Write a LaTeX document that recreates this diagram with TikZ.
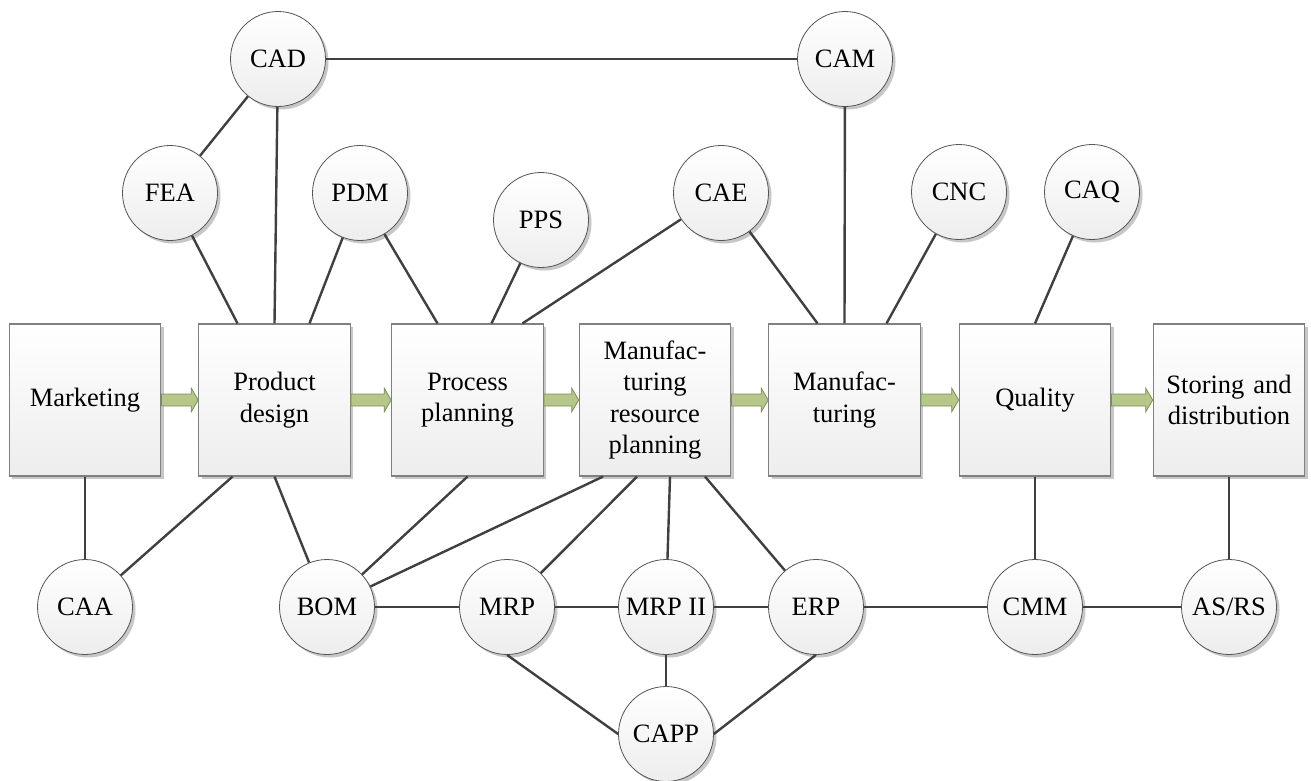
\documentclass[tikz,border=0pt]{standalone}
\usepackage{fontspec}
\setmainfont{Liberation Serif}
\usetikzlibrary{shadows,calc}
\definecolor{lineC}{RGB}{64,64,64}
\definecolor{arrF}{RGB}{181,199,137}
\definecolor{arrD}{RGB}{125,142,88}
\definecolor{boxD}{RGB}{128,128,128}
\definecolor{circD}{RGB}{85,85,85}
\newcommand\blockarrow[2]{%
  \filldraw[arrstyle] let \p1=(#1.east), \p2=(#2.west) in
    (\x1,\y1+6pt) -- (\x2-7pt,\y1+6pt) -- (\x2-7pt,\y1+12pt) -- (\x2,\y1)
    -- (\x2-7pt,\y1-12pt) -- (\x2-7pt,\y1-6pt) -- (\x1,\y1-6pt) -- cycle;}
\begin{document}
\begin{tikzpicture}[x=1pt,y=-1pt,
  txt/.style={font=\fontsize{26.5}{31.5}\selectfont},
  box/.style={rectangle, draw=boxD, line width=1.2pt, minimum width=151.5pt,
    minimum height=152pt, top color=white, bottom color=gray!14,
    drop shadow={shadow xshift=3pt, shadow yshift=-3pt, opacity=0.22, fill=black},
    align=center, text width=145pt, inner sep=0pt, txt},
  circ/.style={circle, draw=circD, line width=0.8pt, minimum size=95pt,
    inner sep=0pt, top color=white, bottom color=gray!14,
    drop shadow={shadow xshift=3pt, shadow yshift=-3pt, opacity=0.22, fill=black},
    txt},
  link/.style={draw=lineC, line width=2.4pt},
  arrstyle/.style={fill=arrF, draw=arrD, line width=0.8pt, line join=miter}]
\useasboundingbox (0,0) rectangle (1311,780);
% boxes
\node[box] (mk) at (85,400) {Marketing};
\node[box] (pd) at (274.5,400) {Product\\design};
\node[box] (pp) at (467.5,400) {Process\\planning};
\node[box] (mr) at (655,400) {Manufac-\\turing\\resource\\planning};
\node[box] (mf) at (844.5,400) {Manufac-\\turing};
\node[box] (q) at (1035,400) {Quality};
\node[box] (sd) at (1229,400) {Storing and\\distribution};
% circles
\node[circ] (cad) at (278,59) {CAD};
\node[circ] (cam) at (845,59) {CAM};
\node[circ] (fea) at (170,193) {FEA};
\node[circ] (pdm) at (360,193) {PDM};
\node[circ] (pps) at (541,220) {PPS};
\node[circ] (cae) at (721,193) {CAE};
\node[circ] (cnc) at (959,192) {CNC};
\node[circ] (caq) at (1092,192) {CAQ};
\node[circ] (caa) at (85,607) {CAA};
\node[circ] (bom) at (327,607) {BOM};
\node[circ] (mrp) at (507,607) {MRP};
\node[circ] (mrp2) at (666,607) {MRP II};
\node[circ] (erp) at (816,607) {ERP};
\node[circ] (cmm) at (1035,607) {CMM};
\node[circ] (asrs) at (1229,607) {AS/RS};
\node[circ] (capp) at (666,734) {CAPP};
% arrows
\blockarrow{mk}{pd}
\blockarrow{pd}{pp}
\blockarrow{pp}{mr}
\blockarrow{mr}{mf}
\blockarrow{mf}{q}
\blockarrow{q}{sd}
% top links
\draw[link] (cad) -- (cam);
\draw[link] (cad) -- (fea);
\draw[link] (cad) -- (pd.north);
\draw[link] (fea) -- ([xshift=-37pt]pd.north);
\draw[link] (pdm) -- ([xshift=35pt]pd.north);
\draw[link] (pdm) -- ([xshift=-30pt]pp.north);
\draw[link] (pps) -- ([xshift=24pt]pp.north);
\draw[link] (cae) -- ([xshift=55pt]pp.north);
\draw[link] (cae) -- ([xshift=-27pt]mf.north);
\draw[link] (cam) -- (mf.north);
\draw[link] (cnc) -- ([xshift=42pt]mf.north);
\draw[link] (caq) -- (q.north);
% bottom links
\draw[link] (mk.south) -- (caa);
\draw[link] ([xshift=-42pt]pd.south) -- (caa);
\draw[link] (pd.south) -- (bom);
\draw[link] (pp.south) -- (bom);
\draw[link] ([xshift=-52pt]mr.south) -- (bom);
\draw[link] ([xshift=-18pt]mr.south) -- (mrp);
\draw[link] ([xshift=15pt]mr.south) -- (mrp2);
\draw[link] ([xshift=50pt]mr.south) -- (erp);
\draw[link] (q.south) -- (cmm);
\draw[link] (sd.south) -- (asrs);
\draw[link] (bom) -- (mrp);
\draw[link] (mrp) -- (mrp2);
\draw[link] (mrp2) -- (erp);
\draw[link] (erp) -- (cmm);
\draw[link] (cmm) -- (asrs);
\draw[link] (mrp.south) -- (capp.west);
\draw[link] (mrp2.south) -- (capp.north);
\draw[link] (erp.south) -- (capp.east);
\end{tikzpicture}
\end{document}
